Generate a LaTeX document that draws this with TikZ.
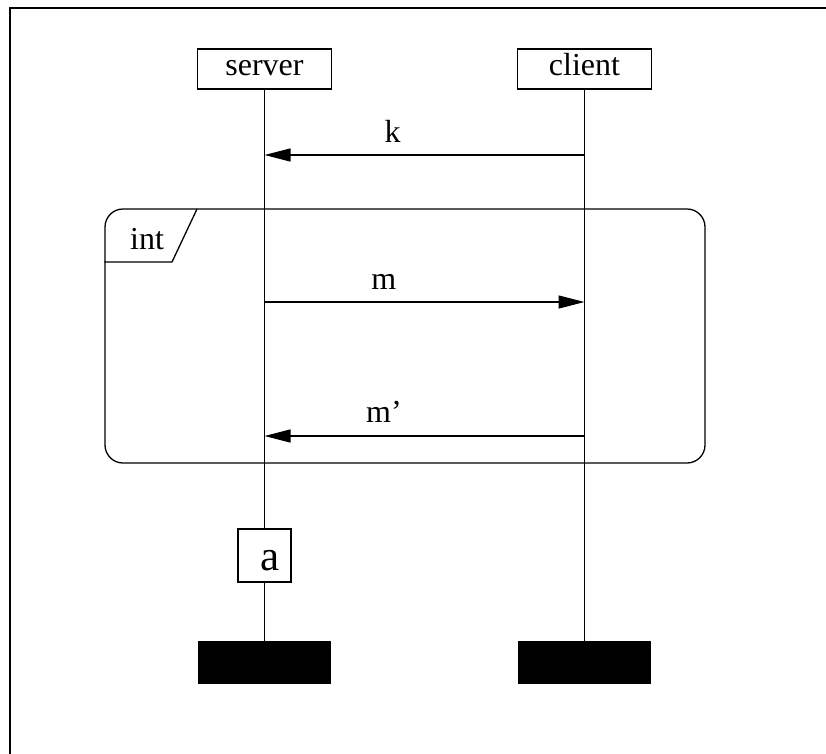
\documentclass[tikz,border=0pt]{standalone}
\usepackage{fontspec}
\setmainfont{Liberation Serif}
\usetikzlibrary{arrows.meta}
\begin{document}
\begin{tikzpicture}[x=1pt,y=-1pt,
  lw/.style={line width=1.3pt},
  actor/.style={draw,lw,minimum width=134pt,minimum height=40pt,inner sep=0pt,text height=20pt,text depth=7pt,font=\fontsize{32}{32}\selectfont},
  endbar/.style={fill=black,draw=none,minimum width=133pt,minimum height=43pt,inner sep=0pt},
  actbox/.style={draw,lw,fill=white,minimum width=53pt,minimum height=53pt,inner sep=0pt},
  msg/.style={lw,-{Triangle[length=26pt,width=13pt]}},
  lbl/.style={anchor=base,inner sep=0pt,font=\fontsize{32}{32}\selectfont}]
\clip (0,0) rectangle (826,753);
\draw[lw] (10,8) rectangle (900,800);
% interaction frame
\node (frame) [draw,lw,rounded corners=18pt,minimum width=600pt,minimum height=254pt,inner sep=0pt] at (405,336) {};
\draw[lw] (frame.west |- 0,262) -- (172,262) -- (197,209);
\node[lbl] (int) at (147,249) {int};
% actors
\node[actor] (server) at (264.5,69) {server};
\node[actor] (client) at (584.5,69) {client};
\node[actbox] (a) at (264.5,555.5) {};
\node[anchor=base,inner sep=0pt,font=\fontsize{43}{43}\selectfont] (alabel) at (270,570) {a};
\node[endbar] (sbar) at (264.5,662.5) {};
\node[endbar] (cbar) at (584.5,662.5) {};
% lifelines
\draw[lw] (server) -- (a);
\draw[lw] (a) -- (sbar);
\draw[lw] (client) -- (cbar);
% messages
\coordinate (kc) at (584.5,155);
\coordinate (ks) at (264.5,155);
\coordinate (ms) at (264.5,302);
\coordinate (mc) at (584.5,302);
\coordinate (pc) at (584.5,436);
\coordinate (ps) at (264.5,436);
\draw[msg] (kc) -- (ks);
\draw[msg] (ms) -- (mc);
\draw[msg] (pc) -- (ps);
\node[lbl] (klabel) at (392.5,142) {k};
\node[lbl] (mlabel) at (383.7,289) {m};
\node[lbl] (plabel) at (384,422) {m’};
\end{tikzpicture}
\end{document}
